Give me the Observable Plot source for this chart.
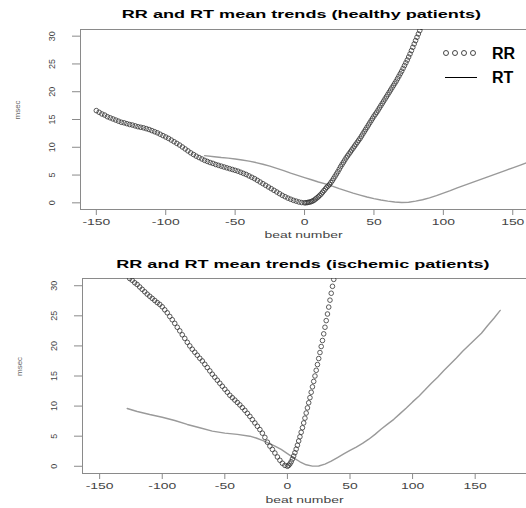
<!DOCTYPE html>
<html>
<head>
<meta charset="utf-8">
<script src="https://cdn.jsdelivr.net/npm/d3@7"></script>
<script src="https://cdn.jsdelivr.net/npm/@observablehq/plot@0.6"></script>
<style>
  html, body { margin: 0; padding: 0; background: #fff; }
  #wrap { position: relative; width: 526px; height: 508px; overflow: hidden; font-family: "Liberation Sans", Arial, sans-serif; background: #fff; }
  .title { position: absolute; text-align: center; font-weight: bold; font-size: 11.5px; line-height: 14px; color: #000; white-space: nowrap; }
  .title span { display: inline-block; transform: scaleX(1.57); transform-origin: center; }
  .panel { position: absolute; left: 0; }
  #legend { position: absolute; left: 436px; top: 40px; }
</style>
</head>
<body>
<div id="wrap">
  <div class="title" id="t1" style="left:78px;width:446px;top:7px;"></div>
  <div class="panel" id="p1" style="top:22px;"></div>
  <div class="title" id="t2" style="left:80px;width:446px;top:257px;"></div>
  <div class="panel" id="p2" style="top:272px;"></div>
</div>
<script>
// ---------- data ----------
const titles = ["RR and RT mean trends (healthy patients)", "RR and RT mean trends (ischemic patients)"];
const xLabel = "beat number";
const yLabel = "msec";
const seriesNames = ["RR", "RT"];
const xTicks = [-150, -100, -50, 0, 50, 100, 150];
const yTicks = [0, 5, 10, 15, 20, 25, 30];

// healthy: RR, beats -150..-2 (every 2 beats)
const healthyRRLeftStart = -150, healthyRRLeftStep = 2;
const healthyRRLeft = [16.6,16.3,16.0,15.8,15.5,15.3,15.1,14.9,14.7,14.5,
  14.4,14.25,14.1,14.0,13.85,13.7,13.6,13.5,13.35,13.2,
  13.0,12.8,12.6,12.35,12.1,11.85,11.6,11.3,11.0,10.7,
  10.4,10.05,9.7,9.35,9.0,8.7,8.4,8.15,7.9,7.65,
  7.45,7.25,7.1,6.9,6.75,6.6,6.45,6.3,6.15,6.0,
  5.85,5.7,5.5,5.3,5.1,4.85,4.6,4.35,4.05,3.75,
  3.45,3.15,2.85,2.55,2.25,1.95,1.65,1.35,1.1,0.85,
  0.65,0.45,0.3,0.15,0.05];
// healthy: RR, beats 0..84 (every beat)
const healthyRRRightStart = 0, healthyRRRightStep = 1;
const healthyRRRight = [0.0,0.02,0.05,0.1,0.15,0.25,0.35,0.5,0.7,0.9,
  1.1,1.35,1.6,1.9,2.2,2.5,2.8,3.05,3.3,3.65,
  4.0,4.4,4.8,5.2,5.6,6.05,6.5,6.9,7.3,7.7,
  8.1,8.45,8.8,9.15,9.5,9.85,10.2,10.55,10.9,11.25,
  11.6,12.0,12.4,12.8,13.2,13.6,14.0,14.4,14.8,15.2,
  15.6,15.95,16.3,16.7,17.1,17.5,17.9,18.3,18.7,19.1,
  19.5,19.9,20.3,20.7,21.1,21.5,21.9,22.35,22.8,23.25,
  23.7,24.2,24.7,25.2,25.7,26.25,26.8,27.4,28.0,28.6,
  29.2,29.8,30.4,31.0,31.6];
// healthy: RT
const healthyRTBeats = [-72,-65,-60,-55,-50,-45,-40,-35,-30,-25,-20,-15,-10,-5,0,5,10,15,20,25,30,35,40,45,50,55,60,65,70,75,80,85,90,95,100,105,110,115,120,125,130,135,140,145,150,155,160];
const healthyRT = [8.5,8.3,8.15,8.05,7.9,7.7,7.5,7.25,6.95,6.6,6.2,5.8,5.35,4.95,4.55,4.15,3.75,3.4,3.0,2.55,2.15,1.75,1.4,1.05,0.75,0.5,0.3,0.15,0.05,0.1,0.3,0.55,0.9,1.3,1.75,2.2,2.7,3.15,3.6,4.05,4.5,4.95,5.4,5.85,6.3,6.75,7.2];

// ischemic: RR, beats -126..-2 (every 2 beats)
const ischRRLeftStart = -126, ischRRLeftStep = 2;
const ischRRLeft = [31.2,30.9,30.5,30.2,29.8,29.4,29.0,28.6,28.25,27.9,
  27.55,27.2,26.9,26.5,26.0,25.5,24.9,24.35,23.75,23.1,
  22.5,21.85,21.25,20.6,20.0,19.45,18.95,18.45,17.95,17.5,
  16.95,16.4,15.85,15.3,14.8,14.3,13.8,13.3,12.8,12.3,
  11.8,11.4,11.0,10.6,10.2,9.75,9.3,8.8,8.3,7.75,
  7.2,6.65,6.1,5.5,4.8,4.0,3.35,2.8,2.2,1.55,
  1.0,0.5,0.15];
// ischemic: RR, beats 0..37 (every beat)
const ischRRRightStart = 0, ischRRRightStep = 1;
const ischRRRight = [0.0,0.15,0.4,0.75,1.2,1.7,2.25,2.85,3.5,4.2,
  4.9,5.65,6.4,7.2,8.0,8.85,9.7,10.55,11.4,12.3,
  13.2,14.1,15.0,15.95,16.9,17.9,18.9,19.9,20.9,22.0,
  23.1,24.2,25.3,26.45,27.6,28.75,29.9,31.05];
// ischemic: RT
const ischRTBeats = [-128,-120,-110,-100,-90,-80,-70,-60,-50,-40,-30,-25,-20,-15,-10,-5,0,5,10,15,20,25,30,35,40,45,50,55,60,65,70,75,80,85,90,95,100,105,110,115,120,125,130,135,140,145,150,155,160,165,170];
const ischRT = [9.6,9.1,8.6,8.15,7.6,6.95,6.4,5.85,5.5,5.3,5.0,4.7,4.3,3.85,3.35,2.8,2.1,1.4,0.75,0.25,0.02,0.05,0.35,0.85,1.45,2.05,2.65,3.2,3.8,4.5,5.3,6.2,7.0,7.8,8.75,9.7,10.7,11.65,12.7,13.8,14.8,15.9,16.95,18.0,19.1,20.1,21.1,22.1,23.4,24.6,25.9];

// ---------- build ----------
const seq = (start, step, values) => values.map((v, i) => ({beat: start + i * step, msec: v}));
const pairs = (beats, values) => beats.map((b, i) => ({beat: b, msec: values[i]})).filter(d => d.msec != null);

const panels = [
  {
    id: "#p1", titleId: "#t1", title: titles[0],
    rr: [...seq(healthyRRLeftStart, healthyRRLeftStep, healthyRRLeft), ...seq(healthyRRRightStart, healthyRRRightStep, healthyRRRight)],
    rt: pairs(healthyRTBeats, healthyRT),
    xDomain: [-161.4, 159.9], marginLeft: 80, marginTop: 7, height: 223, marginBottom: 36, labelDy: 28
  },
  {
    id: "#p2", titleId: "#t2", title: titles[1],
    rr: [...seq(ischRRLeftStart, ischRRLeftStep, ischRRLeft), ...seq(ischRRRightStart, ischRRRightStep, ischRRRight)],
    rt: pairs(ischRTBeats, ischRT),
    xDomain: [-163.7, 191.0], marginLeft: 82, marginTop: 6, height: 236, marginBottom: 35, labelDy: 29
  }
];

const axisGray = "#8a8a8a";
const textGray = "#444";

// horizontal stretch of a text element about its anchor point (the reference glyphs are wide)
function stretch(t, k) {
  let tr = t.getAttribute("transform") || "";
  const x = t.getAttribute("x");
  if (x != null && /^-?[\d.]+$/.test(x.trim())) {
    tr += ` translate(${x},0)`;
    t.removeAttribute("x");
  }
  t.setAttribute("transform", (tr + ` scale(${k},1)`).trim());
}

for (const p of panels) {
  d3.select(p.titleId).append("span").text(p.title);
  const chart = Plot.plot({
    width: 526,
    height: p.height,
    marginLeft: p.marginLeft,
    marginRight: 0,
    marginTop: p.marginTop,
    marginBottom: p.marginBottom,
    style: {fontFamily: '"Liberation Sans", Arial, sans-serif', background: "#fff", overflow: "visible"},
    x: {domain: p.xDomain},
    y: {domain: [-1.2, 31.2]},
    marks: [
      Plot.frame({anchor: "top", stroke: axisGray}),
      Plot.frame({anchor: "left", stroke: axisGray}),
      Plot.frame({anchor: "bottom", stroke: axisGray}),
      Plot.axisX({ticks: xTicks, tickSize: 6, tickPadding: 3, tickFormat: d => String(d), fontSize: 9, stroke: axisGray, fill: textGray, label: null}),
      Plot.axisY({ticks: yTicks, tickSize: 8, tickPadding: 18, tickRotate: -90, fontSize: 9, stroke: axisGray, fill: textGray, label: null}),
      Plot.line(p.rt, {x: "beat", y: "msec", stroke: "#9a9a9a", strokeWidth: 1.4, clip: true}),
      Plot.dot(p.rr, {x: "beat", y: "msec", r: 2.3, stroke: "#333", strokeWidth: 0.8, fill: "none", clip: true}),
      Plot.text([xLabel], {text: d => d, frameAnchor: "bottom", dy: p.labelDy, fontSize: 9, fill: textGray}),
      Plot.text([yLabel], {text: d => d, frameAnchor: "left", dx: -63, rotate: -90, fontSize: 8, fill: "#666"})
    ]
  });
  chart.querySelectorAll('[aria-label="x-axis tick label"] text').forEach(t => stretch(t, 1.55));
  chart.querySelectorAll("text").forEach(t => { if (t.textContent === xLabel) stretch(t, 1.55); });
  document.querySelector(p.id).append(chart);
}

// legend (top panel)
const legend = d3.select("#wrap").append("svg").attr("id", "legend").attr("width", 90).attr("height", 50);
const circleOffsets = [10, 19, 28, 37];
legend.selectAll("circle").data(circleOffsets).join("circle")
  .attr("cx", d => d).attr("cy", 13).attr("r", 2.5)
  .attr("fill", "none").attr("stroke", "#333").attr("stroke-width", 0.9);
legend.append("line").attr("x1", 9).attr("x2", 41).attr("y1", 37.5).attr("y2", 37.5)
  .attr("stroke", "#000").attr("stroke-width", 1);
legend.selectAll("text").data(seriesNames).join("text")
  .attr("x", 56).attr("y", (d, i) => 13 + i * 24)
  .attr("dominant-baseline", "central")
  .attr("font-family", '"Liberation Sans", Arial, sans-serif')
  .attr("font-weight", "bold").attr("font-size", 16)
  .text(d => d);
</script>
</body>
</html>
